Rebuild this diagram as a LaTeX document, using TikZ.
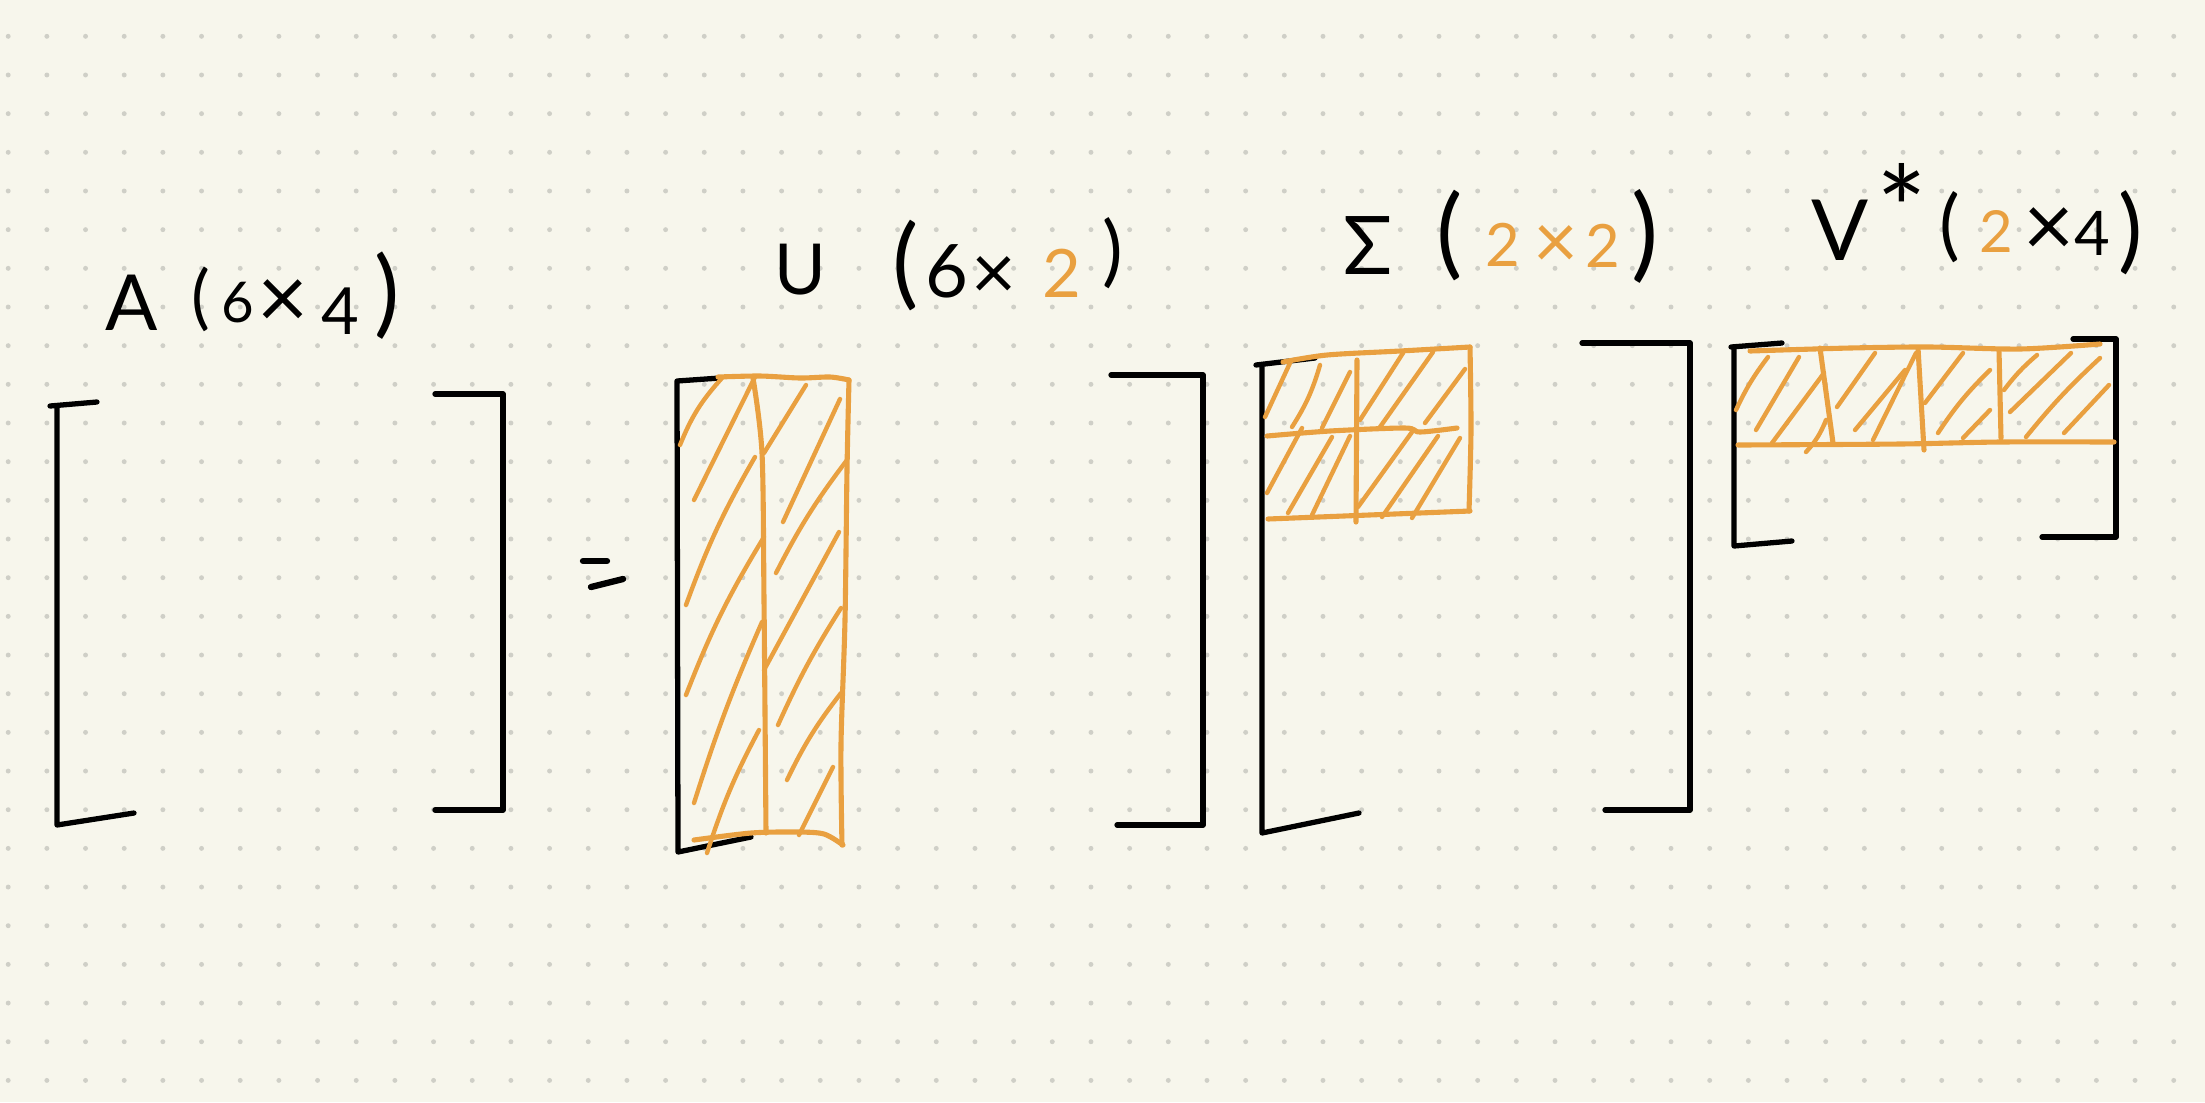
\documentclass[tikz,border=0pt]{standalone}
\usepackage{fontspec}
\setmainfont{Lato}
\definecolor{paper}{HTML}{F7F6EC}
\definecolor{dotc}{HTML}{CFCFC7}
\definecolor{ora}{HTML}{E9A040}
\newcommand{\fs}[1]{\fontsize{#1}{#1}\selectfont}
\begin{document}
\begin{tikzpicture}[x=0.01cm,y=-0.01cm,
  ink/.style={line width=1.5pt,line cap=round,line join=round,black},
  eqs/.style={line width=1.8pt,line cap=round,black},
  oline/.style={line width=1.45pt,line cap=round,line join=round,ora},
  hatch/.style={line width=1.25pt,line cap=round,ora},
  glyph/.style={inner sep=0pt,outer sep=0pt,text=black},
  oglyph/.style={inner sep=0pt,outer sep=0pt,text=ora}]
% background and dot grid
\fill[paper] (0,0) rectangle (2205,1102);
\useasboundingbox (0,0) rectangle (2205,1102);
\foreach \i in {0,...,56}{
  \foreach \j in {0,...,27}{
    \fill[dotc] ({8.2+38.67*\i},{36.3+38.67*\j}) circle[radius=0.7pt];
  }
}
% ---------- labels ----------
% A (6x4)
\node[glyph,font=\fs{22}] (lA) at (132,303) {A};
\node[glyph,font=\fs{20}] (lAo) at (201,299) {(};
\node[glyph,font=\fs{16}] (lA6) at (238,303) {6};
\node[glyph,font=\fs{25}] (lAx) at (283,304) {×};
\node[glyph,font=\fs{18.5}] (lA4) at (340,311) {4};
\node[glyph,font=\fs{27}] (lAc) at (387,296) {)};
% U (6x2)
\node[glyph,font=\fs{20}] (lU) at (800,270) {U};
\node[glyph,font=\fs{28}] (lUo) at (906,266) {(};
\node[glyph,font=\fs{21}] (lU6) at (947,271) {6};
\node[glyph,font=\fs{22}] (lUx) at (994,278) {×};
\node[oglyph,font=\fs{19}] (lU2) at (1062,273) {2};
\node[glyph,font=\fs{22}] (lUc) at (1113,253) {)};
% Sigma (2x2)
\node[glyph,font=\fs{23}] (lS) at (1368,246) {Σ};
\node[glyph,font=\fs{28}] (lSo) at (1450,236) {(};
\node[oglyph,font=\fs{17}] (lS2a) at (1503,245) {2};
\node[oglyph,font=\fs{22}] (lSx) at (1556,247) {×};
\node[oglyph,font=\fs{17}] (lS2b) at (1603,246) {2};
\node[glyph,font=\fs{29}] (lSc) at (1645,236) {)};
% V* (2x4)
\node[glyph,font=\fs{24}] (lV) at (1840,230) {V};
\node[glyph,font=\fs{34}] (lVs) at (1902,208) {*};
\node[glyph,font=\fs{22}] (lVo) at (1950,227) {(};
\node[oglyph,font=\fs{16.5}] (lV2) at (1996,231) {2};
\node[glyph,font=\fs{25}] (lVx) at (2049,232) {×};
\node[glyph,font=\fs{17.5}] (lV4) at (2092,233) {4};
\node[glyph,font=\fs{26}] (lVc) at (2131,233) {)};
% ---------- brackets ----------
% A
\draw[ink] (97,402) -- (50,406);
\draw[ink] (57,406) -- (57,825) -- (134,813);
\draw[ink] (435,394) -- (503,394) -- (503,810) -- (435,810);
% equals
\draw[eqs] (583,561) -- (607,561);
\draw[eqs] (591,587) -- (623,579);
% U
\draw[ink] (720,378) -- (677,381) -- (678,852) -- (751,837);
\draw[ink] (1111,375) -- (1203,375) -- (1203,825) -- (1117,825);
% Sigma
\draw[ink] (1315,358) -- (1256,365);
\draw[ink] (1262,365) -- (1262,833) -- (1359,813);
\draw[ink] (1582,343) -- (1690,343) -- (1690,810) -- (1605,810);
% V*
\draw[ink] (1782,343) -- (1731,347);
\draw[ink] (1734,347) -- (1734,546) -- (1792,541);
\draw[ink] (2073,339) -- (2116,339) -- (2116,537) -- (2042,537);
% ---------- U orange block ----------
\draw[oline] plot[smooth] coordinates {(718,377) (760,376) (800,378) (830,377) (849,380)};
\draw[oline] plot[smooth] coordinates {(849,380) (847,470) (845,620) (841,745) (842,845)};
\draw[oline] plot[smooth] coordinates {(694,840) (751,833) (797,832) (824,834) (843,845)};
\draw[oline] plot[smooth] coordinates {(753,378) (762,453) (764,600) (766,833)};
\draw[hatch] (680,445) to[bend left=10] (722,378);
\draw[hatch] (694,500) -- (755,377);
\draw[hatch] (686,605) to[bend left=5] (755,457);
\draw[hatch] (686,695) to[bend left=5] (764,537);
\draw[hatch] (694,803) to[bend left=3] (762,622);
\draw[hatch] (707,853) to[bend left=5] (759,730);
\draw[hatch] (764,453) -- (806,385);
\draw[hatch] (783,522) -- (840,399);
\draw[hatch] (776,573) to[bend left=5] (847,460);
\draw[hatch] (764,670) -- (839,532);
\draw[hatch] (778,725) to[bend left=4] (841,608);
\draw[hatch] (787,780) to[bend left=6] (841,693);
\draw[hatch] (799,835) -- (833,767);
% ---------- Sigma orange block ----------
\draw[oline] plot[smooth] coordinates {(1283,362) (1327,355) (1400,351) (1470,347)};
\draw[oline] plot[smooth] coordinates {(1470,347) (1471,430) (1469,511)};
\draw[oline] (1268,519) -- (1470,511);
\draw[oline] plot[smooth] coordinates {(1267,436) (1330,431) (1405,428) (1420,432) (1457,428)};
\draw[oline] (1357,360) -- (1356,522);
\draw[hatch] (1265,417) -- (1290,363);
\draw[hatch] (1292,427) to[bend right=8] (1320,365);
\draw[hatch] (1322,428) -- (1350,372);
\draw[hatch] (1360,420) -- (1403,353);
\draw[hatch] (1380,427) -- (1433,352);
\draw[hatch] (1425,423) -- (1465,369);
\draw[hatch] (1267,493) -- (1302,428);
\draw[hatch] (1288,513) -- (1332,437);
\draw[hatch] (1312,515) -- (1350,436);
\draw[hatch] (1358,507) -- (1412,432);
\draw[hatch] (1382,517) -- (1438,436);
\draw[hatch] (1412,518) -- (1460,438);
% ---------- V* orange block ----------
\draw[oline] plot[smooth] coordinates {(1750,351) (1850,348) (1930,347) (2020,349) (2100,344)};
\draw[oline] plot[smooth] coordinates {(1738,445) (1900,444) (2000,442) (2114,442)};
\draw[oline] (1820,348) -- (1833,443);
\draw[oline] (1918,348) -- (1924,450);
\draw[oline] (1999,350) -- (2001,438);
\draw[hatch] (1736,410) to[bend left=6] (1768,357);
\draw[hatch] (1756,430) -- (1799,357);
\draw[hatch] (1772,443) -- (1824,373);
\draw[hatch] (1806,452) to[bend right=10] (1826,420);
\draw[hatch] (1837,407) -- (1875,353);
\draw[hatch] (1855,430) -- (1905,370);
\draw[hatch] (1873,440) -- (1916,353);
\draw[hatch] (1925,403) -- (1963,353);
\draw[hatch] (1938,433) to[bend left=6] (1990,370);
\draw[hatch] (1963,438) -- (1990,410);
\draw[hatch] (2004,390) to[bend left=6] (2037,355);
\draw[hatch] (2010,412) -- (2071,353);
\draw[hatch] (2026,437) to[bend left=4] (2100,358);
\draw[hatch] (2064,433) -- (2109,385);
\end{tikzpicture}
\end{document}
